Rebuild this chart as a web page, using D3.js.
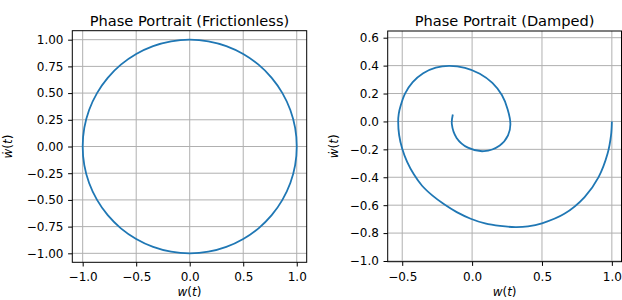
<!DOCTYPE html>
<html>
<head>
<meta charset="utf-8">
<script src="https://cdn.jsdelivr.net/npm/d3@7"></script>
<style>
  body { margin: 0; background: #fff; }
  svg { display: block; }
</style>
</head>
<body>
<div id="chart"></div>
<script>
// Frictionless phase portrait (w, w')
const circleW  = [1.000, 0.985, 0.940, 0.866, 0.766, 0.643, 0.500, 0.342, 0.174, 0.000, -0.174, -0.342, -0.500, -0.643, -0.766, -0.866, -0.940, -0.985,
                  -1.000, -0.985, -0.940, -0.866, -0.766, -0.643, -0.500, -0.342, -0.174, 0.000, 0.174, 0.342, 0.500, 0.643, 0.766, 0.866, 0.940, 0.985];
const circleWd = [0.000, -0.174, -0.342, -0.500, -0.643, -0.766, -0.866, -0.940, -0.985, -1.000, -0.985, -0.940, -0.866, -0.766, -0.643, -0.500, -0.342, -0.174,
                  0.000, 0.174, 0.342, 0.500, 0.643, 0.766, 0.866, 0.940, 0.985, 1.000, 0.985, 0.940, 0.866, 0.766, 0.643, 0.500, 0.342, 0.174];

// Damped phase portrait (w, w')
const spiralW  = [1.000, 0.994, 0.969, 0.905, 0.805, 0.660, 0.500, 0.400, 0.310,
                  0.200, 0.093, -0.010, -0.110, -0.200, -0.283, -0.358, -0.417, -0.465, -0.500, -0.522, -0.529,
                  -0.525, -0.512, -0.480, -0.425, -0.350, -0.260, -0.165,
                  -0.051, 0.055, 0.145, 0.213, 0.254, 0.274,
                  0.257, 0.198, 0.085, -0.030, -0.111, -0.145, -0.138];
const spiralWd = [0.000, -0.100, -0.232, -0.399, -0.542, -0.662, -0.730, -0.752, -0.757,
                  -0.749, -0.731, -0.697, -0.650, -0.594, -0.532, -0.461, -0.379, -0.290, -0.196, -0.099, 0.000,
                  0.055, 0.110, 0.199, 0.281, 0.345, 0.385, 0.398,
                  0.384, 0.342, 0.276, 0.189, 0.088, -0.020,
                  -0.100, -0.172, -0.213, -0.188, -0.118, -0.020, 0.050];

const leftXTicks  = [-1.0, -0.5, 0.0, 0.5, 1.0];
const leftYTicks  = [-1.00, -0.75, -0.50, -0.25, 0.00, 0.25, 0.50, 0.75, 1.00];
const rightXTicks = [-0.5, 0.0, 0.5, 1.0];
const rightYTicks = [-1.0, -0.8, -0.6, -0.4, -0.2, 0.0, 0.2, 0.4, 0.6];

const width = 622, height = 300;
const font = 'DejaVu Sans, sans-serif';
const blue = '#1f77b4';

const svg = d3.select('#chart').append('svg')
  .attr('width', width).attr('height', height);

const minus = s => s.replace('-', '\u2212');

function panel(opts) {
  const { x, y, title, xTicks, yTicks, xFmt, yFmt, ylabelX } = opts;
  const g = svg.append('g');
  const [x0, x1] = x.range();
  const [y0, y1] = y.range(); // y0 bottom, y1 top

  // grid
  g.append('g').selectAll('line').data(xTicks).join('line')
    .attr('x1', d => x(d)).attr('x2', d => x(d))
    .attr('y1', y0).attr('y2', y1)
    .attr('stroke', '#b0b0b0').attr('stroke-width', 1);
  g.append('g').selectAll('line').data(yTicks).join('line')
    .attr('y1', d => y(d)).attr('y2', d => y(d))
    .attr('x1', x0).attr('x2', x1)
    .attr('stroke', '#b0b0b0').attr('stroke-width', 1);

  // data line
  g.append('path')
    .datum(opts.points)
    .attr('d', d3.line().x(d => x(d[0])).y(d => y(d[1])).curve(opts.curve))
    .attr('fill', 'none')
    .attr('stroke', blue)
    .attr('stroke-width', 1.8)
    .attr('stroke-linejoin', 'round');

  // axes
  const xAxis = d3.axisBottom(x).tickValues(xTicks).tickFormat(d => minus(d3.format(xFmt)(d)))
    .tickSizeInner(4.2).tickSizeOuter(0).tickPadding(6.3);
  const yAxis = d3.axisLeft(y).tickValues(yTicks).tickFormat(d => minus(d3.format(yFmt)(d)))
    .tickSizeInner(4.2).tickSizeOuter(0).tickPadding(4.6);

  const gx = g.append('g').attr('transform', `translate(0,${y0})`).call(xAxis);
  const gy = g.append('g').attr('transform', `translate(${x0},0)`).call(yAxis);
  [gx, gy].forEach(a => {
    a.select('.domain').remove();
    a.selectAll('line').attr('stroke', '#000').attr('stroke-width', 1);
    a.selectAll('text').attr('fill', '#000').attr('font-size', '12px').attr('font-family', font);
  });

  // frame
  g.append('rect')
    .attr('x', x0).attr('y', y1)
    .attr('width', x1 - x0).attr('height', y0 - y1)
    .attr('fill', 'none').attr('stroke', '#000').attr('stroke-width', 1);

  // title
  g.append('text')
    .attr('x', (x0 + x1) / 2).attr('y', 25.6)
    .attr('text-anchor', 'middle')
    .attr('font-family', font).attr('font-size', '14.6px')
    .attr('fill', '#000')
    .text(title);

  // x label
  const xl = g.append('text')
    .attr('x', (x0 + x1) / 2).attr('y', 296)
    .attr('text-anchor', 'middle')
    .attr('font-family', font).attr('font-size', '12px');
  xl.append('tspan').attr('font-style', 'italic').text('w');
  xl.append('tspan').text('(');
  xl.append('tspan').attr('font-style', 'italic').text('t');
  xl.append('tspan').text(')');

  // y label
  const yl = g.append('text')
    .attr('transform', `translate(${ylabelX},${(y0 + y1) / 2}) rotate(-90)`)
    .attr('text-anchor', 'middle')
    .attr('font-family', font).attr('font-size', '12px');
  yl.append('tspan').attr('font-style', 'italic').text('\u1E87');
  yl.append('tspan').text('(');
  yl.append('tspan').attr('font-style', 'italic').text('t');
  yl.append('tspan').text(')');
}

// left: frictionless
panel({
  x: d3.scaleLinear().domain([-1.097, 1.093]).range([72.3, 306.7]),
  y: d3.scaleLinear().domain([-1.084, 1.084]).range([262.3, 30.7]),
  title: 'Phase Portrait (Frictionless)',
  xTicks: leftXTicks, yTicks: leftYTicks, xFmt: '.1f', yFmt: '.2f',
  points: circleW.map((w, i) => [w, circleWd[i]]),
  curve: d3.curveCatmullRomClosed.alpha(0.5),
  ylabelX: 12
});

// right: damped
panel({
  x: d3.scaleLinear().domain([-0.604, 1.069]).range([387.7, 621.5]),
  y: d3.scaleLinear().domain([-1.005, 0.648]).range([261.7, 31]),
  title: 'Phase Portrait (Damped)',
  xTicks: rightXTicks, yTicks: rightYTicks, xFmt: '.1f', yFmt: '.1f',
  points: spiralW.map((w, i) => [w, spiralWd[i]]),
  curve: d3.curveCatmullRom.alpha(0.5),
  ylabelX: 338
});
</script>
</body>
</html>
